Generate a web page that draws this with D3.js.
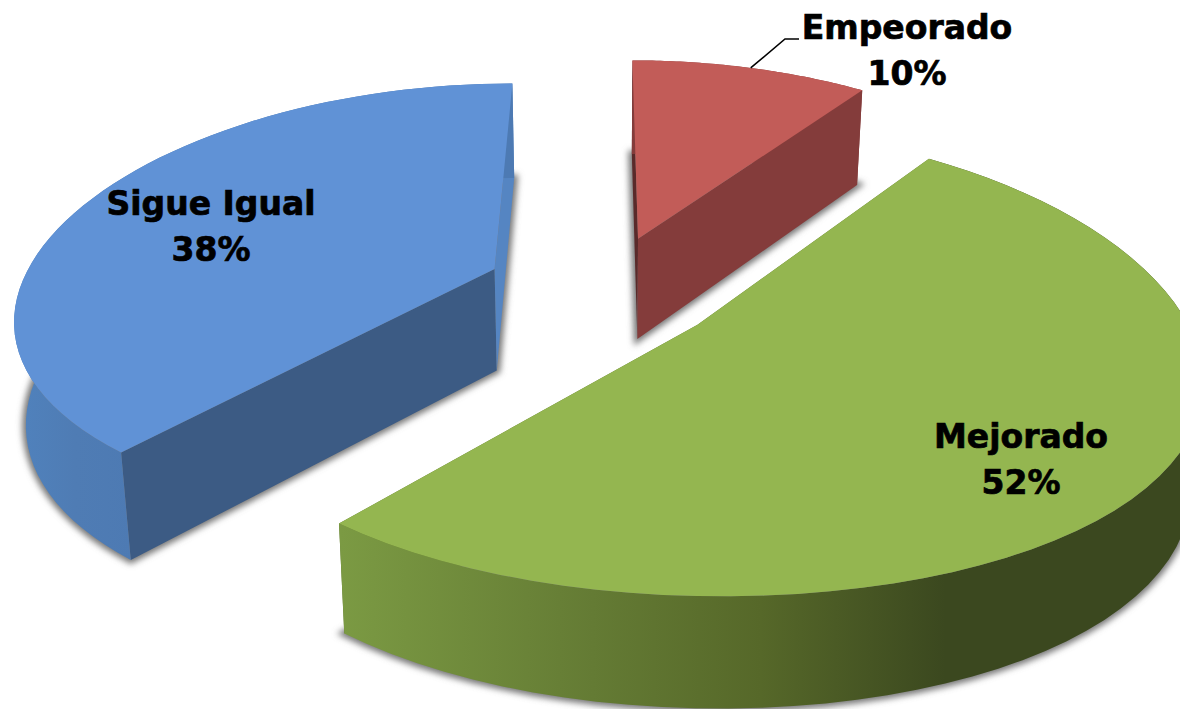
<!DOCTYPE html>
<html>
<head>
<meta charset="utf-8">
<script src="https://cdn.jsdelivr.net/npm/d3@7/dist/d3.min.js"></script>
<style>
  html, body { margin: 0; padding: 0; background: #fff; overflow: hidden; }
  svg { display: block; }
  text { font-family: "DejaVu Sans", sans-serif; font-weight: 700; fill: #000; stroke: #000; stroke-width: 0.7; text-anchor: middle; }
</style>
</head>
<body>
<svg id="chart" width="1180" height="709"></svg>
<script>
// Slice data, clockwise from the first slice
const categories = ["Mejorado", "Sigue Igual", "Empeorado"];
const values = [52, 38, 10];
const topColors = ["#94b650", "#6092d6", "#c25c58"];
const startWallColors = ["#5f7530", "#3c5b84", "#5a2a2a"];
const endWallColors = ["#5f7530", "#5585c2", "#843c3b"];

// Perspective camera for the tilted disc
const view = { xc: 603, yc: 289, fx: 475, fy: 219, kx: 0.2, ky: 0.15, warp: 0.03, depth: 102, taper: 0.98, explode: 0.25 };
const firstAngle = 36;
const rad = d => d * Math.PI / 180;

const svg = d3.select("#chart");
const defs = svg.append("defs");

const blur = defs.append("filter").attr("id", "soft")
  .attr("x", "-10%").attr("y", "-10%").attr("width", "120%").attr("height", "120%");
blur.append("feGaussianBlur").attr("stdDeviation", 3.2);

// Rim shading runs left to right across the side wall
function rimGradient(id, x1, x2, stops) {
  const g = defs.append("linearGradient").attr("id", id)
    .attr("gradientUnits", "userSpaceOnUse")
    .attr("x1", x1).attr("x2", x2).attr("y1", 0).attr("y2", 0);
  stops.forEach(([o, c]) => g.append("stop").attr("offset", o).attr("stop-color", c));
}
rimGradient("rim0", 341, 1180, [[0, "#7b9a43"], [0.3, "#647b34"], [0.5, "#566829"], [0.72, "#3b481f"], [1, "#3b481f"]]);
rimGradient("rim1", 15, 135, [[0, "#5082bd"], [0.5, "#4f7cb4"], [1, "#4d7ab3"]]);
rimGradient("rim2", 630, 870, [[0, "#843c3b"], [1, "#843c3b"]]);

const arcs = d3.pie().sort(null).startAngle(rad(firstAngle)).endAngle(rad(firstAngle + 360))(values);

// Ground-plane coordinates of a slice point, pushed out along its mid angle
function project(arc, r, theta) {
  const mid = (arc.startAngle + arc.endAngle) / 2;
  const phi = theta - view.warp * (1 - Math.cos(theta));
  const u = view.explode * Math.sin(mid) + r * Math.sin(phi);
  const v = -view.explode * Math.cos(mid) - r * Math.cos(phi);
  const wx = 1 - view.kx * v, wy = 1 - view.ky * v;
  return { x: view.xc + view.fx * u / wx, y: view.yc + view.fy * v / wy, w: wy };
}
const topPoint = (arc, r, t) => { const p = project(arc, r, t); return [p.x, p.y]; };
const lowPoint = (arc, r, t) => {
  const p = project(arc, r, t);
  return [view.xc + (p.x - view.xc) * view.taper, p.y + view.depth / Math.sqrt(p.w)];
};

const line = d3.line();
const closed = pts => line(pts) + "Z";
const sweep = arc => d3.range(0, 61).map(i => arc.startAngle + (arc.endAngle - arc.startAngle) * i / 60);

const sectorPath = (arc, fn) => closed([fn(arc, 0, 0), ...sweep(arc).map(t => fn(arc, 1, t))]);
const rimPath = arc => {
  const ts = sweep(arc);
  return closed([...ts.map(t => topPoint(arc, 1, t)), ...ts.slice().reverse().map(t => lowPoint(arc, 1, t))]);
};
const wallPath = (arc, t) => closed([topPoint(arc, 0, 0), topPoint(arc, 1, t), lowPoint(arc, 1, t), lowPoint(arc, 0, 0)]);

// Soft shadow under each slice's lower face
svg.append("g").attr("filter", "url(#soft)")
  .selectAll("path").data(arcs).join("path")
  .attr("d", d => sectorPath(d, lowPoint))
  .attr("fill", "#777").attr("stroke", "#777").attr("stroke-width", 7);

// Each slice: cut walls, outer rim, then the top face
const slices = svg.append("g").selectAll("g").data(arcs).join("g");
slices.append("path").attr("d", d => wallPath(d, d.startAngle)).attr("fill", d => startWallColors[d.index]);
slices.append("path").attr("d", d => wallPath(d, d.endAngle)).attr("fill", d => endWallColors[d.index]);
slices.append("path").attr("d", rimPath).attr("fill", d => `url(#rim${d.index})`);
slices.append("path").attr("d", d => sectorPath(d, topPoint)).attr("fill", d => topColors[d.index]);

// Leader line from the Empeorado label down to its slice
const red = arcs[2];
const touch = topPoint(red, 1, red.startAngle + rad(18));
svg.append("path")
  .attr("d", line([touch, [785, 39], [799, 39]]))
  .attr("fill", "none").attr("stroke", "#000").attr("stroke-width", 1.6);

// Labels
const labelAnchors = [[1021, 448], [211, 215], [907, 39]];
const labels = svg.append("g").selectAll("text").data(arcs).join("text")
  .attr("font-size", 33)
  .attr("transform", d => `translate(${labelAnchors[d.index]})`);
labels.append("tspan").attr("x", 0).attr("y", 0).text(d => categories[d.index]);
labels.append("tspan").attr("x", 0).attr("y", 46).text(d => d.value + "%");
</script>
</body>
</html>
